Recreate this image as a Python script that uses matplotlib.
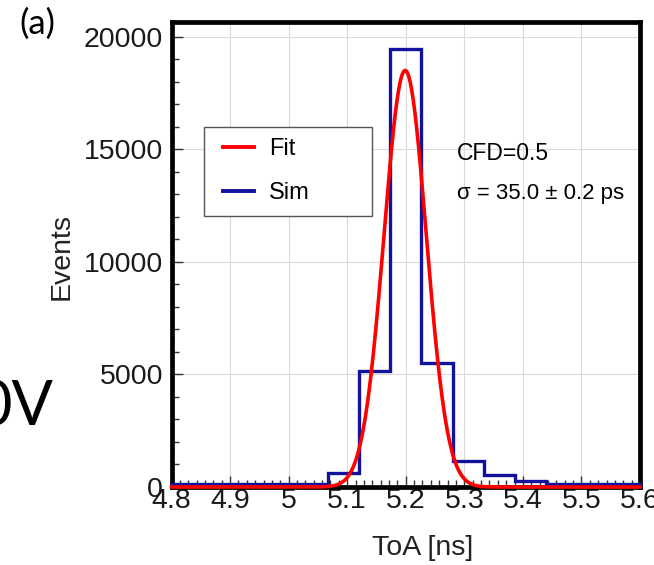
import numpy as np
import matplotlib
matplotlib.use("Agg")
import matplotlib.pyplot as plt
from matplotlib.patches import Rectangle
from matplotlib.ticker import FixedLocator

# histogram of simulated time of arrival (15 bins, 4.8 - 5.6 ns)
bin_edges = np.linspace(4.8, 5.6, 16)
sim_counts = [130, 130, 130, 130, 130, 620, 5150, 19450, 5500, 1150, 530, 260, 140, 140, 140]

# gaussian fit parameters
fit_amp = 18500
fit_mean = 5.199
fit_sigma = 0.036

x_ticks = [4.8, 4.9, 5.0, 5.1, 5.2, 5.3, 5.4, 5.5, 5.6]
x_tick_labels = ["4.8", "4.9", "5", "5.1", "5.2", "5.3", "5.4", "5.5", "5.6"]
y_ticks = [0, 5000, 10000, 15000, 20000]

W, H = 654, 565
fig = plt.figure(figsize=(W / 100, H / 100), dpi=100)
ax = fig.add_axes([171.5 / W, 1 - 487 / H, (640 - 171.5) / W, (487 - 22) / H])

ax.stairs(sim_counts, bin_edges, color="#12129c", lw=2.4, zorder=3, clip_on=False)
xf = np.linspace(4.8, 5.6, 600)
yf = fit_amp * np.exp(-0.5 * ((xf - fit_mean) / fit_sigma) ** 2)
ax.plot(xf, yf, color="#ff0000", lw=2.6, zorder=4, clip_on=False)

ax.set_xlim(4.8, 5.6)
ax.set_ylim(0, 20650)
ax.set_xticks(x_ticks)
ax.set_xticklabels(x_tick_labels)
ax.set_yticks(y_ticks)
ax.xaxis.set_minor_locator(FixedLocator(np.linspace(4.8, 5.6, 57)))
ax.yaxis.set_minor_locator(FixedLocator(np.arange(0, 20001, 1000)))
ax.grid(True, which="major", color="#dadada", lw=0.8)
ax.set_axisbelow(True)

for s in ax.spines.values():
    s.set_linewidth(3.4)
    s.set_color("black")

ax.tick_params(which="both", direction="in", top=False, right=False,
               labelsize=20.5, labelcolor="#1a1a1a", width=1.0, color="#333333")
ax.tick_params(which="major", length=8)
ax.tick_params(which="minor", length=5)
ax.tick_params(axis="y", pad=6)
ax.tick_params(axis="x", pad=1)
for lab in ax.get_xticklabels() + ax.get_yticklabels():
    lab.set_fontfamily("Liberation Sans")

fig.text(423 / W, 1 - 548 / H, "ToA [ns]", ha="center", va="center",
         fontsize=20.5, family="Liberation Sans", color="#222222")
fig.text(62 / W, 1 - 256 / H, "Events", rotation=90, ha="center", va="center",
         fontsize=20.5, family="Liberation Sans", color="#222222")

# legend: box drawn by hand, entries from legend without frame
def px_x(p):
    return (p - 171.5) / 468.5

def px_y(p):
    return (487 - p) / 465

box = Rectangle((px_x(204), px_y(216)), px_x(372) - px_x(204), px_y(127) - px_y(216),
                transform=ax.transAxes, facecolor="white", edgecolor="#555555",
                lw=1.0, zorder=5)
ax.add_patch(box)
leg = ax.legend(handles=[plt.Line2D([], [], color="#ff0000", lw=2.8),
                         plt.Line2D([], [], color="#12129c", lw=2.8)],
                labels=["Fit", "Sim"], loc="center left",
                bbox_to_anchor=(px_x(223), px_y(171)),
                prop={"family": "Liberation Sans", "size": 17},
                frameon=False, labelspacing=0.93, handlelength=1.3,
                handletextpad=0.65, borderpad=0, borderaxespad=0)
leg.set_zorder(6)

ax.text(px_x(457), px_y(154), "CFD=0.5", transform=ax.transAxes,
        ha="left", va="center", fontsize=16.5, family="Liberation Sans")
ax.text(px_x(457), px_y(193), "σ = 35.0 ± 0.2 ps", transform=ax.transAxes,
        ha="left", va="center", fontsize=16, family="Liberation Sans")

fig.text(37 / W, 1 - 24 / H, "(a)", ha="center", va="center", fontsize=25, family="Lato")
fig.text(53 / W, 1 - 425 / H, "0V", ha="right", va="baseline", fontsize=44, family="Lato")

fig.savefig("out.png", dpi=100)
